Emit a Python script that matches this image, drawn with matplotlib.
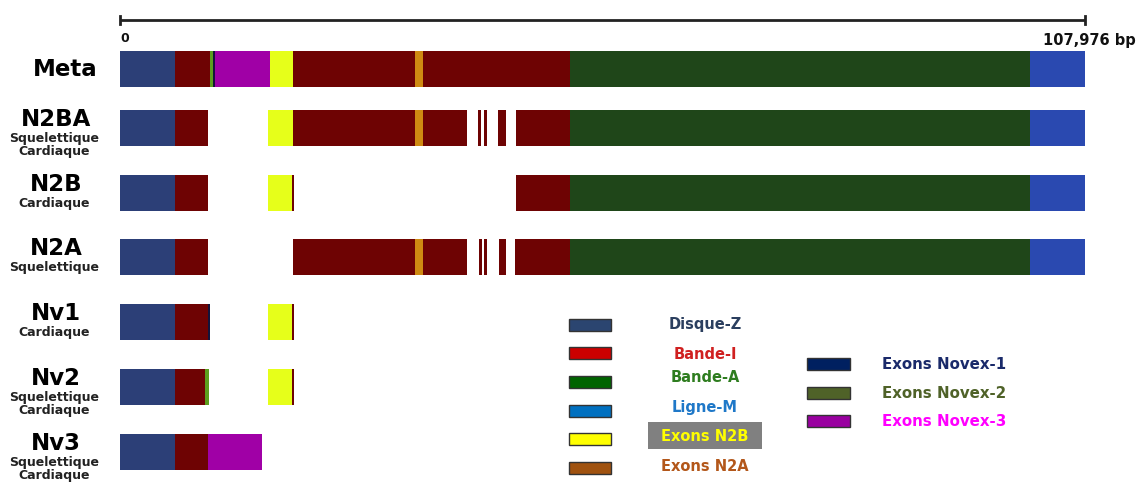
import matplotlib
matplotlib.use("Agg")
import matplotlib.pyplot as plt
from matplotlib.patches import Rectangle

W, H = 1147, 486
total_bp = 107976

# exon segments per isoform: (start bp, end bp, region)
meta = [(0, 6150, "Z"), (6150, 10070, "I"), (10070, 10400, "NV2"), (10400, 10630, "NV1"),
        (10630, 16800, "NV3"), (16800, 19360, "N2B"), (19360, 33010, "I"), (33010, 33900, "N2A"),
        (33900, 50350, "I"), (50350, 101820, "A"), (101820, 107976, "M")]
n2ba = [(0, 6150, "Z"), (6150, 9850, "I"), (16560, 19360, "N2B"), (19360, 33010, "I"),
        (33010, 33900, "N2A"), (33900, 38830, "I"), (40060, 40400, "I"), (40730, 41070, "I"),
        (42290, 43180, "I"), (44310, 50350, "I"), (50350, 101820, "A"), (101820, 107976, "M")]
n2b = [(0, 6150, "Z"), (6150, 9850, "I"), (16560, 19240, "N2B"), (19240, 19470, "I"),
       (44310, 50350, "I"), (50350, 101820, "A"), (101820, 107976, "M")]
n2a = [(0, 6150, "Z"), (6150, 9850, "I"), (19360, 33010, "I"), (33010, 33900, "N2A"),
       (33900, 38830, "I"), (40170, 40510, "I"), (40730, 41070, "I"), (42410, 43190, "I"),
       (44200, 50350, "I"), (50350, 101820, "A"), (101820, 107976, "M")]
nv1 = [(0, 6150, "Z"), (6150, 9850, "I"), (9850, 10070, "NV1"), (16560, 19240, "N2B"),
       (19240, 19470, "I")]
nv2 = [(0, 6150, "Z"), (6150, 9510, "I"), (9510, 9960, "NV2"), (16560, 19240, "N2B"),
       (19240, 19470, "I")]
nv3 = [(0, 6150, "Z"), (6150, 9850, "I"), (9850, 15890, "NV3")]

isoforms = ["Meta", "N2BA", "N2B", "N2A", "Nv1", "Nv2", "Nv3"]
tissues = ["", "Squelettique\nCardiaque", "Cardiaque", "Squelettique", "Cardiaque",
           "Squelettique\nCardiaque", "Squelettique\nCardiaque"]
segments = [meta, n2ba, n2b, n2a, nv1, nv2, nv3]

legend1 = ["Disque-Z", "Bande-I", "Bande-A", "Ligne-M", "Exons N2B", "Exons N2A"]
legend2 = ["Exons Novex-1", "Exons Novex-2", "Exons Novex-3"]

bar_colors = {"Z": "#2C3F77", "I": "#6E0303", "A": "#1F4619", "M": "#2A49B0",
              "N2B": "#E6FF1A", "N2A": "#CF8A12", "NV1": "#14143A", "NV2": "#5C9E1E",
              "NV3": "#A000A6"}
box1_colors = ["#2B4570", "#CC0000", "#006400", "#0070C0", "#FFFF00", "#A0520F"]
text1_colors = ["#2B3F5F", "#D02020", "#2E7D1F", "#1F78C8", "#FFFF00", "#B3571A"]
box2_colors = ["#002060", "#4F6228", "#9900A0"]
text2_colors = ["#1A2A6A", "#4F6228", "#FF00FF"]

row_y = [69, 128, 193, 257, 322, 387, 452]   # pixel centre of each row
bar_h = 36


def fx(x):
    return x / W


def fy(y):
    return 1 - y / H


fig = plt.figure(figsize=(W / 100, H / 100), dpi=100)
ax = fig.add_axes([fx(120), 0, fx(1085) - fx(120), 1])
ax.set_xlim(0, total_bp)
ax.set_ylim(H, 0)
ax.axis("off")

for segs, y in zip(segments, row_y):
    for start, end, kind in segs:
        ax.barh(y, end - start, left=start, height=bar_h, color=bar_colors[kind],
                edgecolor="none")

# scale bar
ax.plot([0, total_bp], [20, 20], color="#222222", lw=2, solid_capstyle="butt", clip_on=False)
ax.plot([0, 0], [16, 24], color="#222222", lw=2, clip_on=False)
ax.plot([total_bp, total_bp], [16, 24], color="#222222", lw=2, clip_on=False)
ax.text(0, 38, "0", fontsize=9, fontweight="bold", ha="left", va="center", color="#111111")
ax.text(total_bp + 500, 40, f"{total_bp:,} bp", fontsize=10.5, fontweight="bold",
        ha="center", va="center", color="#111111", clip_on=False)

# row labels
for name, tissue, y in zip(isoforms, tissues, row_y):
    if tissue:
        fig.text(fx(56), fy(y - 9), name, fontsize=16.5, fontweight="bold", ha="center", va="center")
        fig.text(fx(54), fy(y + 4), tissue, fontsize=9, fontweight="bold", ha="center",
                 va="top", linespacing=1.0, color="#222222")
    else:
        fig.text(fx(65), fy(y), name, fontsize=16.5, fontweight="bold", ha="center", va="center")

# legend, first column
leg1_y = [325, 353, 382, 411, 439, 468]
text1_y = [325, 354, 377, 407, 436, 466]
fig.add_artist(Rectangle((fx(648), fy(449)), fx(762) - fx(648), fy(422) - fy(449),
                         transform=fig.transFigure, facecolor="#808080", edgecolor="none"))
for label, bc, tc, by, ty in zip(legend1, box1_colors, text1_colors, leg1_y, text1_y):
    fig.add_artist(Rectangle((fx(569), fy(by + 6)), fx(611) - fx(569), fy(by - 6) - fy(by + 6),
                             transform=fig.transFigure, facecolor=bc, edgecolor="#333333", lw=1))
    fig.text(fx(705), fy(ty), label, fontsize=10.5, fontweight="bold", color=tc,
             ha="center", va="center")

# legend, second column
leg2_y = [364, 393, 421]
for label, bc, tc, by in zip(legend2, box2_colors, text2_colors, leg2_y):
    fig.add_artist(Rectangle((fx(807), fy(by + 6)), fx(850) - fx(807), fy(by - 6) - fy(by + 6),
                             transform=fig.transFigure, facecolor=bc, edgecolor="#333333", lw=1))
    fig.text(fx(882), fy(by), label, fontsize=10.8, fontweight="bold", color=tc,
             ha="left", va="center")

fig.savefig("out.png", dpi=100)
